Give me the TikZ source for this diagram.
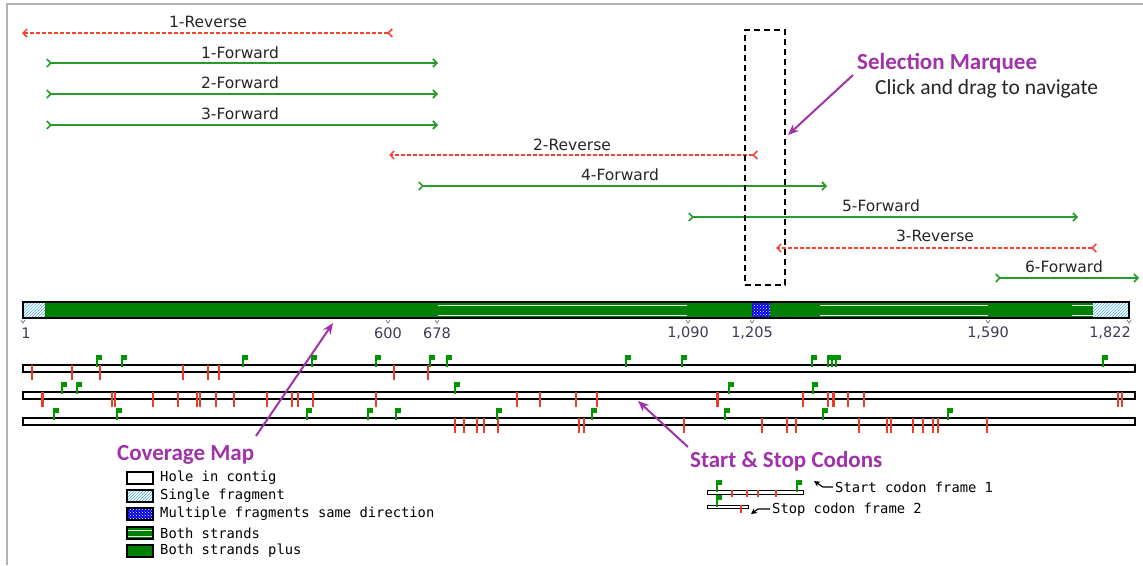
\documentclass[tikz,border=0pt]{standalone}
\usepackage{fontspec}
\setmainfont{DejaVu Sans}
\newfontfamily\calfont{Carlito}
\newfontfamily\macfont{DejaVu Sans Mono}
\usetikzlibrary{arrows.meta,patterns}
\definecolor{readgreen}{RGB}{40,155,40}
\definecolor{readred}{RGB}{240,70,50}
\definecolor{covgreen}{RGB}{0,128,0}
\definecolor{callout}{RGB}{160,50,170}
\definecolor{flaggreen}{RGB}{0,150,0}
\definecolor{stopred}{RGB}{235,60,40}
\definecolor{hatchcyan}{RGB}{70,170,235}
\definecolor{numgray}{RGB}{60,60,85}
\tikzset{
  startflag/.pic={\draw[flaggreen, line width=2pt] (0,2) -- (0,-10);
    \fill[flaggreen] (0,-10) rectangle (5,-5);},
  postick/.pic={\draw[gray, line width=0.8pt] (-2,0) -- (0,3) -- (2,0);}
}
\begin{document}
\begin{tikzpicture}[x=1pt, y=-1pt,
    fwd/.style={readgreen, line width=1.6pt,
      {Straight Barb[reversed, length=4pt, width=8pt]}-{Straight Barb[length=4pt, width=8pt]}},
    rev/.style={fwd, readred, line width=1.5pt, dash pattern=on 4pt off 2pt},
    readlbl/.style={font=\fontsize{15.5}{18}\selectfont, text=black!85, inner sep=0pt, anchor=base},
    numlbl/.style={font=\fontsize{14.5}{16}\selectfont, text=numgray, inner sep=0pt},
    calltitle/.style={font=\calfont\bfseries\fontsize{23}{26}\selectfont, text=callout, inner sep=0pt, anchor=base west},
    callnote/.style={font=\calfont\fontsize{21.5}{24}\selectfont, text=black!85, inner sep=0pt, anchor=base west},
    callarrow/.style={callout, line width=2pt, -{Stealth[length=11pt, width=9pt]}},
    legtext/.style={font=\macfont\fontsize{13.8}{16}\selectfont, inner sep=0pt, anchor=west},
    single/.style={fill=white, postaction={pattern=north east lines, pattern color=hatchcyan}},
    multi/.style={fill=blue!90!black, postaction={pattern=crosshatch dots, pattern color=white}},
    plus/.style={fill=covgreen},
    both/.style={fill=covgreen},
    hole/.style={fill=white},
    codonbar/.style={draw, fill=white, line width=1.4pt},
    stoptick/.style={stopred, line width=1.6pt}]
  \fill[white] (0,0) rectangle (1143,565);
  \useasboundingbox (0,0) rectangle (1143,565);
  \draw[gray!60, line width=1.5pt] (7,565) -- (7,4) -- (1143,4);

  % reads
  \coordinate (r1a) at (393,33);   \coordinate (r1b) at (22,33);
  \coordinate (f1a) at (46,63);    \coordinate (f1b) at (438,63);
  \coordinate (f2a) at (46,94);    \coordinate (f2b) at (438,94);
  \coordinate (f3a) at (46,125);   \coordinate (f3b) at (438,125);
  \coordinate (r2a) at (758,155);  \coordinate (r2b) at (389,155);
  \coordinate (f4a) at (418,186);  \coordinate (f4b) at (827,186);
  \coordinate (f5a) at (688,217);  \coordinate (f5b) at (1078,217);
  \coordinate (r3a) at (1097,248); \coordinate (r3b) at (776,248);
  \coordinate (f6a) at (995,278);  \coordinate (f6b) at (1139,278);
  \draw[rev] (r1a) -- (r1b);
  \draw[fwd] (f1a) -- (f1b);
  \draw[fwd] (f2a) -- (f2b);
  \draw[fwd] (f3a) -- (f3b);
  \draw[rev] (r2a) -- (r2b);
  \draw[fwd] (f4a) -- (f4b);
  \draw[fwd] (f5a) -- (f5b);
  \draw[rev] (r3a) -- (r3b);
  \draw[fwd] (f6a) -- (f6b);
  \node[readlbl] (lr1) at (208,27) {1-Reverse};
  \node[readlbl] (lf1) at (240,58) {1-Forward};
  \node[readlbl] (lf2) at (240,88.5) {2-Forward};
  \node[readlbl] (lf3) at (240,119) {3-Forward};
  \node[readlbl] (lr2) at (572,150) {2-Reverse};
  \node[readlbl] (lf4) at (620,180.5) {4-Forward};
  \node[readlbl] (lf5) at (881,211) {5-Forward};
  \node[readlbl] (lr3) at (935,241.5) {3-Reverse};
  \node[readlbl] (lf6) at (1064,272) {6-Forward};

  % selection marquee
  \node[draw, line width=1.5pt, dash pattern=on 6pt off 4pt, minimum width=40pt,
    minimum height=255pt, inner sep=0pt] (marq) at (765,157.5) {};
  \node[calltitle] (seltitle) at (857,69) {Selection Marquee};
  \node[callnote] (selnote) at (875,94) {Click and drag to navigate};
  \coordinate (sm1) at (853,75);
  \coordinate (sm2) at (788,135);
  \draw[callarrow] (sm1) -- (sm2);

  % coverage map
  \foreach \a/\b/\s in {23/45/single, 45/438/plus, 438/687/both, 687/752/plus,
      752/770/multi, 770/820/plus, 820/988/both, 988/1072/plus, 1072/1093/both,
      1093/1129/single}
    \path[style=\s] (\a,302) rectangle (\b,318);
  \foreach \a/\b in {438/687, 820/988, 1072/1093}
    \draw[white!85!gray, line width=1pt] (\a,305) -- (\b,305) (\a,315) -- (\b,315);
  \draw[line width=1.5pt] (23,302) rectangle (1129,318);
  \foreach \x in {23, 388, 437, 688, 752, 988, 1129}
    \pic at (\x,320) {postick};
  \node[numlbl] (n1) at (26,333) {1};
  \node[numlbl] (n600) at (388,333) {600};
  \node[numlbl] (n678) at (437,333) {678};
  \node[numlbl] (n1090) at (688,333) {1,090};
  \node[numlbl] (n1205) at (752,333) {1,205};
  \node[numlbl] (n1590) at (988,333) {1,590};
  \node[numlbl] (n1822) at (1110,333) {1,822};

  % codon frames
  \draw[codonbar] (23,365) rectangle (1135,372);
  \draw[codonbar] (23,392) rectangle (1135,399);
  \draw[codonbar] (23,418) rectangle (1135,425);
  \foreach \x in {32, 72, 100, 183, 208, 219, 394, 428}
    \draw[stoptick] (\x,365) -- (\x,380);
  \foreach \x in {112, 115, 153, 178, 197, 200, 216, 234, 267, 292, 298, 313, 376,
      517, 540, 576, 597, 803, 828, 848, 864, 1118, 1122}
    \draw[stoptick] (\x,392) -- (\x,407);
  \foreach \x in {42, 717, 833}
    \draw[stoptick, line width=3pt] (\x,392) -- (\x,407);
  \foreach \x in {455, 464, 477, 484, 498, 579, 584, 684, 762, 787, 796, 859, 887,
      891, 913, 923, 933, 938, 987}
    \draw[stoptick] (\x,418) -- (\x,433);
  \foreach \x in {97, 122, 243, 312, 376, 430, 447, 626, 682, 812, 828, 832, 836, 1103}
    \pic at (\x,365) {startflag};
  \foreach \x in {62, 77, 455, 729, 813}
    \pic at (\x,392) {startflag};
  \foreach \x in {54, 117, 307, 368, 396, 497, 592, 725, 823, 948}
    \pic at (\x,418) {startflag};

  % coverage legend
  \node[calltitle] (covtitle) at (117,460) {Coverage Map};
  \coordinate (cm1) at (256,436);
  \coordinate (cm2) at (333,323);
  \draw[callarrow] (cm1) -- (cm2);
  \foreach \y/\s/\t in {478/hole/Hole in contig, 496/single/Single fragment,
      514/multi/Multiple fragments same direction, 533/both/Both strands,
      551/plus/Both strands plus} {
    \path[style=\s] (127,\y-6) rectangle (153,\y+6);
    \draw[line width=1.3pt] (127,\y-6) rectangle (153,\y+6);
    \node[legtext] (leg\y) at (160,\y) {\t};
  }
  \draw[white!85!gray, line width=1pt] (128,530) -- (152,530) (128,536) -- (152,536);

  % start & stop legend
  \node[calltitle] (codtitle) at (690,467) {Start \& Stop Codons};
  \coordinate (ss1) at (688,447);
  \coordinate (ss2) at (638,401);
  \draw[callarrow] (ss1) -- (ss2);
  \draw[line width=1pt] (707,490) rectangle (803,494);
  \foreach \x in {732, 747, 758, 776}
    \draw[stoptick, line width=1.3pt] (\x,490) -- (\x,497);
  \pic at (717,490) {startflag};
  \pic at (797,490) {startflag};
  \draw[line width=1pt] (707,505) rectangle (748,508);
  \draw[stoptick, line width=1.3pt] (741,505) -- (741,513);
  \pic at (717,505) {startflag};
  \coordinate (sa1) at (833,487);
  \coordinate (sa2) at (823,487);
  \coordinate (sa3) at (814,481);
  \draw[line width=1.2pt, -{Stealth[length=6pt, width=6pt]}] (sa1) -- (sa2) -- (sa3);
  \node[legtext] (startlbl) at (835,487) {Start codon frame 1};
  \coordinate (so1) at (770,509);
  \coordinate (so2) at (758,509);
  \coordinate (so3) at (751,514);
  \draw[line width=1.2pt, -{Stealth[length=6pt, width=6pt]}] (so1) -- (so2) -- (so3);
  \node[legtext] (stoplbl) at (772,510) {Stop codon frame 2};
\end{tikzpicture}
\end{document}
